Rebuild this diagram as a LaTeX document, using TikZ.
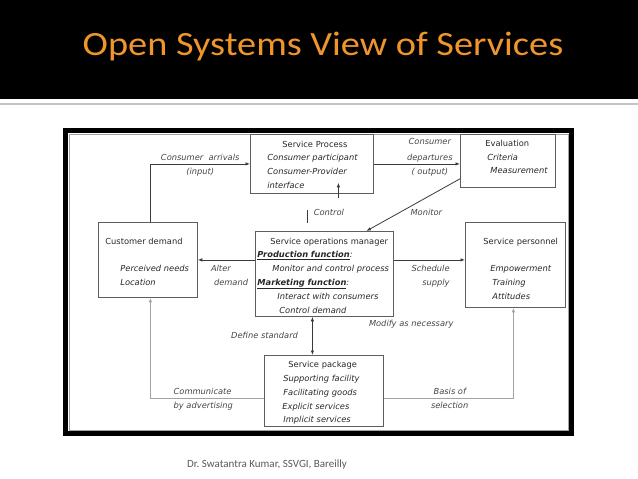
\documentclass[tikz,border=0pt]{standalone}
\usepackage{fontspec}
\usepackage{graphicx}
\usepackage{tikz}
\usetikzlibrary{arrows.meta, calc}
\newfontfamily\diagfont{DejaVu Sans}
\newfontfamily\slidefont{Carlito}
\definecolor{titleorange}{HTML}{F0952C}
\definecolor{boxgray}{HTML}{5E5E5E}
\definecolor{linkgray}{HTML}{3A3A3A}
\definecolor{loopgray}{HTML}{A3A3A3}
\definecolor{lblgray}{HTML}{454545}
\definecolor{footgray}{HTML}{595959}
\definecolor{rulegray}{HTML}{C4C4C4}
\newcommand{\diagsize}{\diagfont\fontsize{8.3}{13.8}\selectfont}

\begin{document}
\begin{tikzpicture}[x=1pt, y=-1pt, >={Latex[length=4.5pt, width=3.5pt]},
    box/.style={draw=boxgray, line width=0.8pt, rectangle, inner sep=0pt, anchor=north west, align=left, text=black!85, font=\diagsize},
    link/.style={draw=linkgray, line width=0.8pt},
    outer/.style={draw=loopgray, line width=1.1pt},
    lbl/.style={text=lblgray, font=\diagsize\itshape, inner sep=0pt}]
    \useasboundingbox (0,0) rectangle (638,479);
    % slide header
    \fill[black] (0,0) rectangle (638,99);
    \draw[rulegray, line width=2pt] (0,104) -- (638,104);
    \node[anchor=base, inner sep=0pt, text=titleorange, font=\slidefont\fontsize{34}{40}\selectfont] (title) at (323,56) {\scalebox{1.127}[1]{Open Systems View of Services}};
    % frame round the diagram
    \draw[black, line width=5pt] (65.5,130.5) rectangle (571.5,433.5);
    \draw[loopgray, line width=0.6pt] (69,134) rectangle (568,430);

    % boxes
    \node[box, text width=123pt, minimum height=59pt, text height=8pt] (proc) at (250,134) {\hspace*{32pt}Service Process\\\hspace*{17pt}\textit{Consumer participant}\\\hspace*{17pt}\textit{Consumer-Provider}\\\hspace*{17pt}\textit{interface}};
    \node[box, text width=95pt, minimum height=53pt, text depth=35.6pt] (eval) at (460,134) {\hspace*{25pt}Evaluation\\\hspace*{27pt}\textit{Criteria}\\\hspace*{30pt}\textit{Measurement}};
    \node[box, text width=99pt, minimum height=75pt, text height=10.5pt] (cust) at (98,222) {\hspace*{7pt}Customer demand\\[13pt]\hspace*{22pt}\textit{Perceived needs}\\\hspace*{22pt}\textit{Location}};
    \node[box, text width=138pt, minimum height=85pt, text height=9.5pt] (ops) at (255,231) {\hspace*{15pt}Service operations manager\\\hspace*{2pt}\underline{\textbf{\textit{Production function}}}\textit{:}\\\hspace*{17pt}\textit{Monitor and control process}\\\hspace*{2pt}\underline{\textbf{\textit{Marketing function}}}\textit{:}\\\hspace*{22pt}\textit{Interact with consumers}\\\hspace*{24pt}\textit{Control demand}};
    \node[box, text width=100pt, minimum height=85pt, text height=14.5pt] (serv) at (465,222) {\hspace*{18pt}Service personnel\\[13pt]\hspace*{25pt}\textit{Empowerment}\\\hspace*{27pt}\textit{Training}\\\hspace*{27pt}\textit{Attitudes}};
    \node[box, text width=119pt, minimum height=71pt, text height=10.5pt] (pkg) at (264,355) {\hspace*{24pt}Service package\\\hspace*{19pt}\textit{Supporting facility}\\\hspace*{19pt}\textit{Facilitating goods}\\\hspace*{18pt}\textit{Explicit services}\\\hspace*{19pt}\textit{Implicit services}};

    % flows
    \draw[link, ->] ($(cust.north)+(2.5,0)$) |- node[lbl, pos=0.75, above=3pt] {Consumer\ \ arrivals} node[lbl, pos=0.75, below=3.7pt] {(input)} (proc.west);
    \draw[link, ->] (proc.east) -- node[lbl, pos=0.65, above=1.2pt, align=center] {Consumer\\[2.2pt]departures} node[lbl, pos=0.65, below=3.7pt] {( output)} (proc.east -| eval.west);
    \draw[link] ($(ops.north)+(-17,-8)$) -- node[lbl, pos=0.8, right=6pt] {Control} ($(ops.north)+(-17,-21)$);
    \draw[link, ->] ($(proc.south)+(26.5,4)$) -- ($(proc.south)+(26.5,-11)$);
    \draw[link, ->] ($(eval.south west)+(0,-9)$) -- node[lbl, pos=0.36, below=11pt] {Monitor} ($(ops.north)+(42,0)$);
    \draw[link, ->] (ops.west |- cust.east) -- node[lbl, pos=0.776, below=4.7pt, anchor=north west, align=left] {Alter\\\hspace*{3pt}demand} (cust.east);
    \draw[link, ->] (ops.east |- cust.east) -- node[lbl, pos=0.79, below=4.7pt, anchor=north east, align=right] {Schedule\\supply} (cust.east -| serv.west);
    \draw[link, <->] ($(ops.south)+(-12,0)$) -- node[lbl, left=14pt] {Define standard} ($(pkg.north)+(-11.5,0)$);
    \node[lbl, anchor=west] (modify) at ($(ops.south east)+(-25,7)$) {Modify as necessary};
    \draw[outer, ->] ($(pkg.west)+(0,7.5)$) -| node[lbl, pos=0.40, above=3.7pt, anchor=south west] {Communicate} node[lbl, pos=0.40, below=3pt, anchor=north west] {by advertising} ($(cust.south)+(2.5,0)$);
    \draw[outer, ->] ($(pkg.east)+(0,7.5)$) -| node[lbl, pos=0.19, above=3.7pt, anchor=south west] {Basis of} node[lbl, pos=0.18, below=3pt, anchor=north west] {selection} ($(serv.south)+(-2,0)$);

    % footer
    \node[anchor=base west, inner sep=0pt, text=footgray, font=\slidefont\fontsize{11}{13}\selectfont] (credit) at (187,467.5) {Dr.\ Swatantra Kumar, SSVGI, Bareilly};
\end{tikzpicture}
\end{document}
